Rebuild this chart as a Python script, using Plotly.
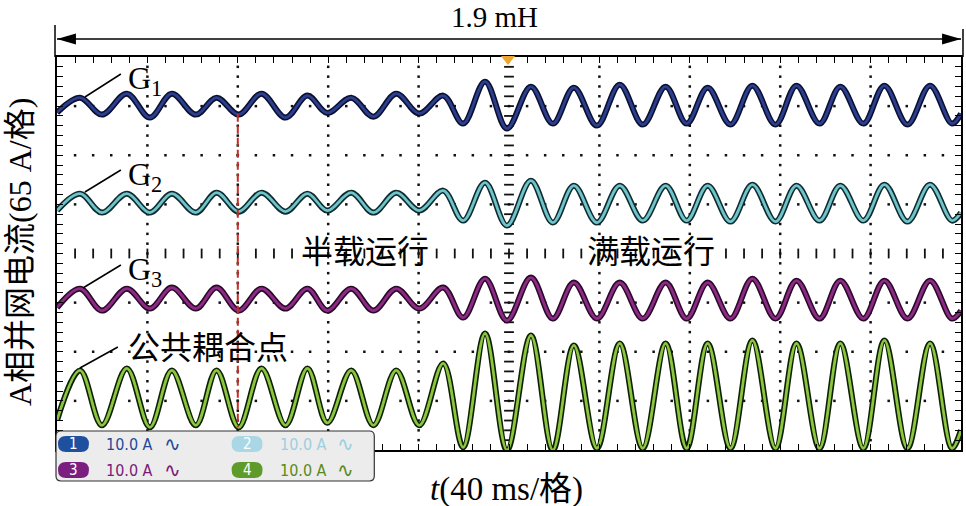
import plotly.graph_objects as go

# ---------------- data ----------------
# time of each sampled extremum of the waveforms (ms); shared by all channels
t_ms = [0, 10.2, 19.9, 30.9, 41.1, 50.8, 61.4, 70.6, 80.4, 90.5, 101.1, 110.8,
        119.6, 130.2, 140.0, 150.1, 160.3, 170.9, 179.7, 189.4, 199.1, 209.7,
        219.4, 228.7, 238.9, 249.0, 259.2, 269.3, 278.6, 287.9, 298.0, 307.7,
        317.9, 327.2, 337.4, 346.6, 356.8, 366.1, 376.3, 386.3, 396.0, 400]
# current values (A) of each channel at those instants
g1 = [-8.6, 11.2, -11.2, 16.5, -15.2, 16.5, -11.2, 11.2, -11.2, 16.5, -15.2, 13.9,
      -9.0, 11.2, -13.9, 16.5, -9.9, 13.9, -23.1, 32.4, -29.7, 25.8, -23.1, 24.4,
      -25.8, 28.4, -24.4, 25.8, -23.1, 24.4, -24.4, 27.1, -24.4, 27.1, -23.1, 25.8,
      -23.1, 27.1, -24.4, 27.1, -23.1, -9.9]
g2 = [-9.2, 13.2, -11.9, 13.2, -11.9, 13.2, -11.9, 14.5, -10.6, 14.5, -10.6, 13.2,
      -9.2, 14.5, -11.9, 14.5, -9.2, 17.2, -22.5, 27.7, -29.1, 30.4, -25.1, 23.8,
      -25.1, 23.8, -22.5, 23.8, -22.5, 23.8, -23.8, 25.1, -23.8, 23.8, -22.5, 23.8,
      -22.5, 25.1, -23.8, 25.1, -22.5, -11.9]
g3 = [-10.6, 14.5, -14.5, 14.5, -11.9, 15.9, -11.9, 15.9, -14.5, 14.5, -11.9, 14.5,
      -14.5, 14.5, -14.5, 14.5, -11.9, 15.9, -23.8, 27.7, -27.7, 29.1, -25.1, 22.5,
      -25.1, 22.5, -25.1, 22.5, -25.1, 22.5, -25.1, 27.7, -25.1, 25.1, -25.1, 25.1,
      -25.1, 25.1, -25.1, 25.1, -25.1, -14.5]
g4 = [-31.7, 34.3, -38.3, 37.0, -41.0, 34.3, -38.3, 34.3, -41.0, 37.0, -38.3, 37.0,
      -35.0, 34.3, -38.3, 34.3, -38.3, 43.6, -67.4, 83.2, -71.3, 80.6, -71.3, 67.4,
      -68.7, 70.0, -68.7, 70.0, -68.7, 70.0, -68.7, 74.0, -68.7, 70.0, -68.7, 70.0,
      -68.7, 74.0, -68.7, 70.0, -68.7, -44.9]
channel_names = ["G1", "G2", "G3", "公共耦合点"]
scale_labels = ["10.0 A", "10.0 A", "10.0 A", "10.0 A"]
t_event = 80          # red dashed marker (ms)

# ---------------- layout / style constants ----------------
W, H = 966, 506
L, R, T, B = 57, 3, 57, 56
PW, PH = W - L - R, H - T - B
A_DIV, T_DIV = 65, 40
offsets = [195, 66, -61, -189]                       # channel vertical positions (A)
inner = ["#2b3f8e", "#6fc3cb", "#8c2a86", "#8cc63f"]
outer = ["#0b1030", "#0e2b2e", "#2a0a28", "#0d1f05"]

def px(x):
    return (x - L) / PW

def py(y):
    return (H - B - y) / PH

fig = go.Figure()

# ---- oscilloscope grid dots ----
gx, gy = [], []
for k in [-3, -2, -1, 1, 2, 3]:
    for i in range(1, 50):
        gx.append(i * 8); gy.append(k * A_DIV)
for k in [1, 2, 3, 4, 6, 7, 8, 9]:
    for j in range(-19, 20):
        gx.append(k * T_DIV); gy.append(j * 13)
fig.add_trace(go.Scatter(x=gx, y=gy, mode="markers", hoverinfo="skip",
                         marker=dict(symbol="square", size=2.5, color="#111")))
# centre cross ticks
fig.add_trace(go.Scatter(x=[i * 8 for i in range(1, 50)], y=[0] * 49, mode="markers",
                         hoverinfo="skip",
                         marker=dict(symbol="line-ns", size=7, line=dict(width=1.8, color="#111"))))
fig.add_trace(go.Scatter(x=[200] * 39, y=[j * 13 for j in range(-19, 20)], mode="markers",
                         hoverinfo="skip",
                         marker=dict(symbol="line-ew", size=7, line=dict(width=1.8, color="#111"))))

# ---- waveforms ----
for vals, off, ci, co in zip([g1, g2, g3, g4], offsets, inner, outer):
    yy = [v + off for v in vals]
    fig.add_trace(go.Scatter(x=t_ms, y=yy, mode="lines", hoverinfo="skip",
                             line=dict(color=co, width=6, shape="spline", smoothing=1)))
    fig.add_trace(go.Scatter(x=t_ms, y=yy, mode="lines", hoverinfo="skip",
                             line=dict(color=ci, width=2.8, shape="spline", smoothing=1)))

shapes = []
def pline(x0, y0, x1, y1, w=1.5, color="black"):
    shapes.append(dict(type="line", xref="paper", yref="paper", x0=px(x0), y0=py(y0),
                       x1=px(x1), y1=py(y1), line=dict(color=color, width=w)))

def ppath(points, fill):
    s = "M " + " L ".join(f"{px(a)},{py(b)}" for a, b in points) + " Z"
    shapes.append(dict(type="path", xref="paper", yref="paper", path=s,
                       fillcolor=fill, line=dict(width=0)))

def rrect(x0, y0, x1, y1, r, fill, lc=None, lw=0):
    P = lambda a, b: f"{px(a)},{py(b)}"
    s = (f"M {P(x0 + r, y0)} L {P(x1 - r, y0)} Q {P(x1, y0)} {P(x1, y0 + r)} "
         f"L {P(x1, y1 - r)} Q {P(x1, y1)} {P(x1 - r, y1)} L {P(x0 + r, y1)} "
         f"Q {P(x0, y1)} {P(x0, y1 - r)} L {P(x0, y0 + r)} Q {P(x0, y0)} {P(x0 + r, y0)} Z")
    shapes.append(dict(type="path", xref="paper", yref="paper", path=s, fillcolor=fill,
                       line=dict(color=lc or fill, width=lw)))

# red dashed event line (data coords)
shapes.append(dict(type="line", xref="x", yref="y", x0=t_event, x1=t_event, y0=185, y1=-230,
                   line=dict(color="#c0302a", width=2, dash="8px,4px")))
# dimension arrow at top
pline(57, 39, 963, 39)
pline(55, 25, 55, 57)
pline(965, 29, 965, 57)
ppath([(57, 39), (76, 33.5), (76, 44.5)], "black")
ppath([(963, 39), (944, 33.5), (944, 44.5)], "black")
# trigger marker
ppath([(502, 56), (516, 56), (509, 65)], "#eea52e")
# leader lines
pline(85, 97, 121, 74)
pline(85, 192, 121, 170)
pline(83, 288, 121, 265)
pline(80, 368, 118, 347)

# scale box
rrect(56, 431, 375, 481, 5, "#ececec", "#333", 1.2)
badge_fill = ["#1f4f9f", "#a9d7e6", "#7a1f80", "#5f9b2a"]
text_col = ["#1f4a9a", "#9ccfe0", "#7a1a7a", "#5a8a1a"]
badge_x = [58, 232, 58, 232]
row_y = [444, 444, 470, 470]
order = [0, 1, 2, 3]
for i in order:
    bx, ry = badge_x[i], row_y[i]
    rrect(bx, ry - 8, bx + 31, ry + 8, 8, badge_fill[i])

fig.update_layout(shapes=shapes)

ann = []
serif = "Liberation Serif, Noto Sans CJK SC"
def text(x, y, s, size, color="black", family=serif, xa="center", ya="middle", angle=0):
    ann.append(dict(x=px(x), y=py(y), xref="paper", yref="paper", text=s, showarrow=False,
                    font=dict(size=size, color=color, family=family), xanchor=xa,
                    yanchor=ya, textangle=angle))

text(495, 17, "1.9 mH", 29)
text(126, 80, "G<sub>1</sub>", 32, xa="left")
text(126, 176, "G<sub>2</sub>", 32, xa="left")
text(126, 271, "G<sub>3</sub>", 32, xa="left")
text(126, 348, channel_names[3], 32, xa="left")
text(366, 252, "半载运行", 32)
text(652, 252, "满载运行", 32)
text(20, 252, "A相并网电流(65 A/格)", 32, angle=-90)
text(507, 489, "<i>t</i>(40 ms/格)", 33)

narrow = "DejaVu Sans Condensed, Liberation Sans Narrow, Roboto"
for i in order:
    bx, ry = badge_x[i], row_y[i]
    text(bx + 15.5, ry, str(i + 1), 15, "white", narrow)
    text(bx + 46, ry, scale_labels[i], 16, text_col[i], narrow, xa="left")
    text(bx + 104, ry, "∿", 20, text_col[i], "DejaVu Sans", xa="left")

fig.update_layout(
    annotations=ann,
    width=W, height=H,
    margin=dict(l=L, r=R, t=T, b=B),
    paper_bgcolor="white", plot_bgcolor="white",
    showlegend=False,
    xaxis=dict(range=[0, 400], showgrid=False, zeroline=False, showticklabels=False,
               showline=True, linewidth=2, linecolor="black", mirror="ticks",
               ticks="inside", tick0=0, dtick=8, ticklen=6, tickwidth=1.4, tickcolor="black"),
    yaxis=dict(range=[-260, 260], showgrid=False, zeroline=False, showticklabels=False,
               showline=True, linewidth=2, linecolor="black", mirror="ticks",
               ticks="inside", tick0=0, dtick=13, ticklen=6, tickwidth=1.4, tickcolor="black"),
)

fig.write_html("out.html")
